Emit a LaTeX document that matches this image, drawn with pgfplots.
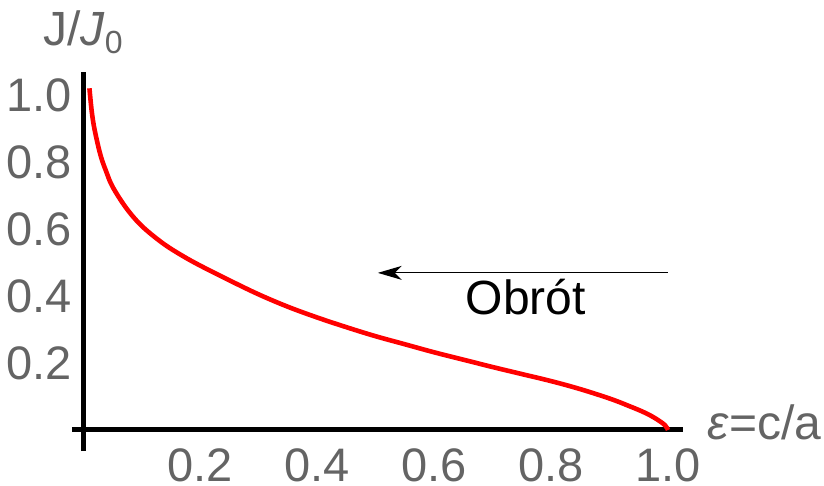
\documentclass[border=0pt]{standalone}
\usepackage{pgfplots}
\pgfplotsset{compat=1.18}
\usepackage{fontspec}
\setmainfont{Liberation Sans}
\usetikzlibrary{arrows.meta}
\definecolor{lblgray}{RGB}{100,100,100}
\begin{document}
\begin{tikzpicture}
\begin{axis}[
  x=292.5pt, y=167.5pt,
  axis lines=middle,
  axis line style={-, line width=2.5pt, black},
  xmin=-0.019, xmax=1.026, ymin=-0.063, ymax=1.069,
  xtick={0.2,0.4,0.6,0.8,1.0},
  ytick={0.2,0.4,0.6,0.8,1.0},
  major tick length=0pt,
  tick style={draw=none},
  /pgf/number format/.cd, fixed, fixed zerofill, precision=1, assume math mode=true,
  /pgfplots/.cd,
  ticklabel style={font=\fontsize{23.5}{28}\selectfont, text=lblgray, inner sep=0pt},
  xticklabel style={anchor=center, yshift=-17.5pt},
  yticklabel style={anchor=east, xshift=-5.5pt},
  clip=false,
]
\addplot[red, line width=2.3pt, smooth, tension=0.6] coordinates {
(0.011,1.02) (0.015,0.95) (0.02,0.895) (0.03,0.82) (0.04,0.77) (0.05,0.728)
(0.07,0.672) (0.09,0.628) (0.11,0.594) (0.14,0.553) (0.17,0.520) (0.20,0.491)
(0.25,0.447) (0.30,0.405) (0.35,0.368) (0.40,0.336) (0.45,0.307) (0.50,0.280)
(0.55,0.256) (0.60,0.232) (0.65,0.210) (0.70,0.188) (0.75,0.167) (0.80,0.146)
(0.85,0.122) (0.90,0.094) (0.93,0.074) (0.96,0.052) (0.98,0.033) (0.995,0.014) (1.0,0.0)
};
\draw[line width=0.6pt, -{Stealth[length=12pt,width=7pt,inset=3.5pt]}] (axis cs:1.0,0.469) -- (axis cs:0.504,0.469);
\node[font=\fontsize{24}{28}\selectfont, anchor=base, inner sep=0pt] at (axis cs:0.757,0.344) {Obrót};
\node[font=\fontsize{24}{28}\selectfont, text=lblgray, anchor=west, inner sep=0pt] at (axis cs:1.067,0.024) {\textit{ε}=c/a};
\node[font=\fontsize{24}{28}\selectfont, text=lblgray, anchor=base, inner sep=0pt] at (axis cs:0,1.149) {J/\textit{J}\raisebox{-4pt}{\fontsize{16}{16}\selectfont 0}};
\coordinate (bl) at (axis cs:-0.1419,-0.1672);
\coordinate (tr) at (axis cs:1.2667,1.2836);
\end{axis}
\pgfresetboundingbox
\path[use as bounding box] (bl) rectangle (tr);
\end{tikzpicture}
\end{document}
